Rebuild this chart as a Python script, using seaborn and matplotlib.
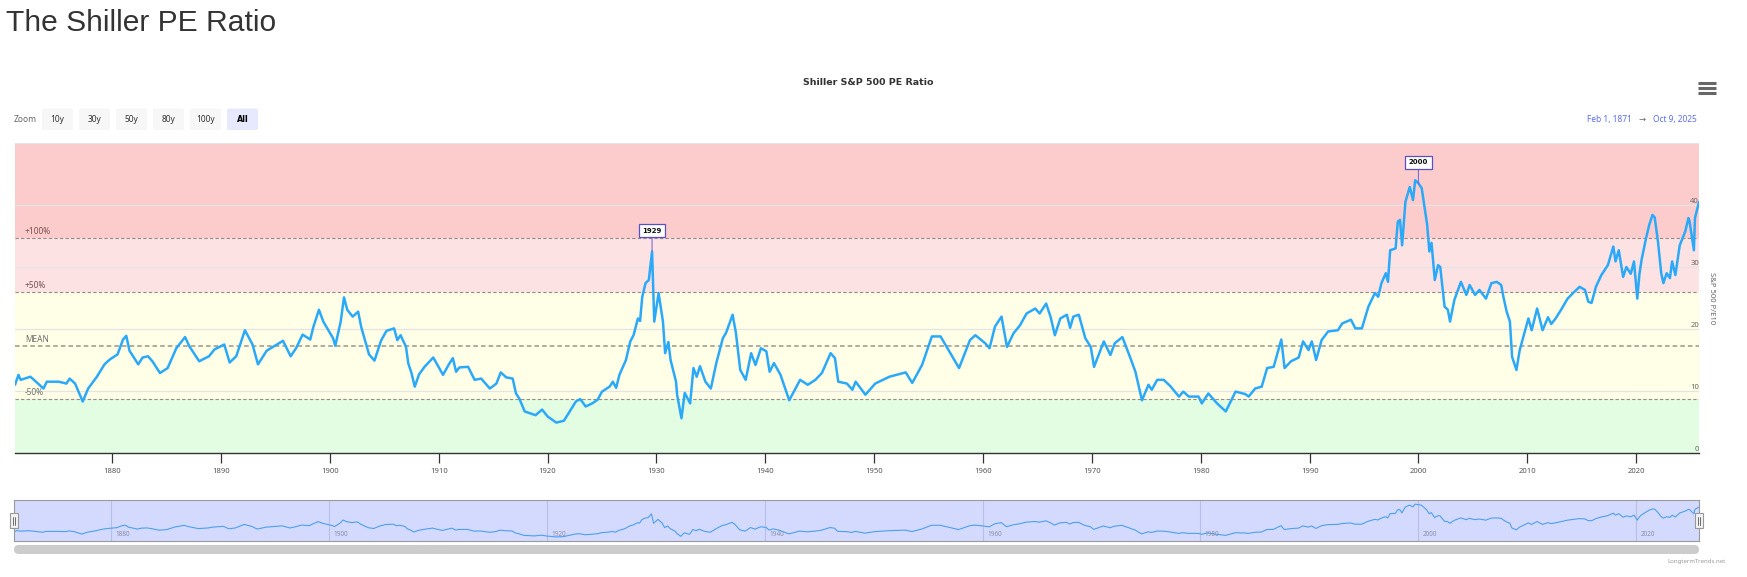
import numpy as np
import pandas as pd
import seaborn as sns
import matplotlib.pyplot as plt
import matplotlib.transforms as mtransforms
from matplotlib.patches import Rectangle, FancyBboxPatch

# Shiller PE (CAPE), decimal years
years = [
    1871.08, 1871.4, 1871.6, 1872.5, 1873.7, 1874.0, 1875.1, 1875.8, 1876.1, 1876.6,
    1877.3, 1877.8, 1878.6, 1879.3, 1879.8, 1880.5, 1881.0, 1881.3, 1881.6, 1882.4,
    1882.8, 1883.3, 1883.7, 1884.4, 1885.1, 1885.9, 1886.7, 1887.1, 1888.0, 1888.9,
    1889.4, 1890.3, 1890.8, 1891.4, 1892.2, 1892.9, 1893.4, 1894.2, 1895.7, 1896.4,
    1896.9, 1897.5, 1898.2, 1898.5, 1899.0, 1899.4, 1900.3, 1900.5, 1901.0, 1901.3,
    1901.6, 1902.1, 1902.6, 1902.9, 1903.6, 1904.1, 1904.7, 1905.2, 1905.9, 1906.2,
    1906.5, 1907.0, 1907.2, 1907.5, 1907.8, 1908.2, 1908.7, 1909.5, 1910.4, 1910.9,
    1911.3, 1911.6, 1911.9, 1912.7, 1913.3, 1913.9, 1914.7, 1915.3, 1915.7, 1916.2,
    1916.8, 1917.1, 1917.4, 1917.9, 1918.9, 1919.5, 1920.0, 1920.8, 1921.5, 1922.1,
    1922.6, 1923.0, 1923.5, 1924.1, 1924.6, 1925.0, 1925.7, 1926.0, 1926.3, 1926.6,
    1927.2, 1927.6, 1927.9, 1928.3, 1928.5, 1928.7, 1929.0, 1929.3, 1929.6, 1929.8,
    1930.2, 1930.6, 1930.8, 1931.1, 1931.3, 1931.8, 1931.9, 1932.3, 1932.6, 1933.1,
    1933.4, 1933.7, 1934.0, 1934.5, 1935.0, 1935.5, 1936.1, 1936.4, 1937.0, 1937.3,
    1937.7, 1938.2, 1938.7, 1939.1, 1939.6, 1940.1, 1940.4, 1940.8, 1941.4, 1942.2,
    1943.2, 1943.9, 1944.6, 1945.2, 1946.0, 1946.4, 1946.7, 1947.5, 1948.0, 1948.3,
    1949.2, 1950.1, 1951.4, 1952.9, 1953.5, 1954.4, 1955.3, 1956.1, 1957.0, 1957.8,
    1958.8, 1959.3, 1960.2, 1960.6, 1961.1, 1961.7, 1962.2, 1962.8, 1963.4, 1964.0,
    1964.8, 1965.2, 1965.8, 1966.2, 1966.6, 1967.1, 1967.7, 1968.0, 1968.3, 1968.8,
    1969.4, 1969.9, 1970.2, 1971.1, 1971.7, 1972.1, 1972.8, 1973.5, 1974.0, 1974.6,
    1975.2, 1975.5, 1976.0, 1976.6, 1977.2, 1978.0, 1978.4, 1978.9, 1979.8, 1980.1,
    1980.7, 1981.5, 1982.3, 1983.2, 1984.1, 1984.4, 1985.0, 1985.6, 1986.1, 1986.7,
    1987.4, 1987.7, 1988.3, 1989.0, 1989.4, 1989.9, 1990.2, 1990.6, 1991.1, 1991.7,
    1992.6, 1993.0, 1993.8, 1994.2, 1994.8, 1995.4, 1996.0, 1996.3, 1996.6, 1997.0,
    1997.2, 1997.4, 1997.9, 1998.1, 1998.3, 1998.5, 1998.8, 1999.2, 1999.5, 1999.7,
    2000.0, 2000.3, 2000.6, 2000.8, 2001.0, 2001.2, 2001.5, 2001.8, 2002.0, 2002.4,
    2002.7, 2002.9, 2003.3, 2003.9, 2004.4, 2004.7, 2005.2, 2005.6, 2006.2, 2006.7,
    2007.2, 2007.6, 2007.8, 2008.1, 2008.4, 2008.6, 2009.0, 2009.3, 2009.8, 2010.1,
    2010.4, 2010.9, 2011.4, 2011.9, 2012.2, 2012.6, 2013.1, 2013.7, 2014.2, 2014.8,
    2015.3, 2015.6, 2015.9, 2016.3, 2016.8, 2017.4, 2017.9, 2018.1, 2018.4, 2018.8,
    2019.1, 2019.5, 2019.8, 2020.1, 2020.3, 2020.5, 2020.9, 2021.2, 2021.5, 2021.7,
    2022.0, 2022.3, 2022.5, 2022.8, 2023.1, 2023.3, 2023.6, 2024.0, 2024.5, 2024.8,
    2024.9, 2025.3, 2025.4, 2025.77,
]
pe = [
    11.0, 12.6, 11.8, 12.3, 10.4, 11.5, 11.5, 11.2, 12.0, 11.2,
    8.3, 10.4, 12.3, 14.3, 15.1, 15.9, 18.3, 18.9, 16.5, 14.3,
    15.4, 15.6, 14.8, 12.9, 13.7, 16.9, 18.7, 17.2, 14.8, 15.6,
    16.7, 17.5, 14.6, 15.6, 19.8, 17.5, 14.3, 16.5, 18.1, 15.6,
    16.9, 19.1, 18.3, 20.4, 23.1, 21.2, 18.5, 17.3, 21.2, 25.1,
    23.1, 22.0, 22.8, 20.2, 15.9, 14.9, 18.1, 19.7, 20.1, 18.2,
    19.0, 17.1, 14.5, 12.9, 10.7, 12.7, 13.9, 15.4, 12.6, 14.2,
    15.3, 13.1, 13.8, 13.9, 11.8, 12.0, 10.4, 11.2, 13.0, 12.2,
    12.0, 9.6, 8.8, 6.7, 6.1, 7.0, 5.9, 4.9, 5.2, 6.9,
    8.3, 8.7, 7.5, 8.0, 8.6, 9.9, 10.7, 11.5, 10.5, 12.6,
    15.0, 18.0, 19.0, 21.7, 21.3, 25.2, 27.4, 27.9, 32.5, 21.2,
    25.8, 21.2, 16.1, 17.9, 15.0, 11.5, 9.4, 5.6, 9.7, 8.0,
    13.7, 12.3, 14.0, 11.5, 10.4, 14.5, 18.5, 19.4, 22.3, 19.4,
    13.4, 11.8, 16.1, 14.2, 16.9, 16.4, 13.1, 14.5, 12.6, 8.5,
    11.8, 11.0, 11.8, 12.9, 16.1, 15.3, 11.5, 11.2, 10.2, 11.5,
    9.4, 11.2, 12.3, 13.0, 11.3, 14.2, 18.8, 18.8, 16.1, 13.7,
    18.2, 19.0, 17.7, 16.9, 20.4, 22.0, 17.1, 19.3, 20.6, 22.5,
    23.3, 22.5, 24.1, 22.0, 19.0, 21.7, 22.3, 20.2, 22.0, 22.3,
    18.5, 17.1, 13.9, 18.0, 15.8, 17.7, 18.7, 15.5, 13.1, 8.5,
    11.0, 10.2, 11.8, 11.8, 10.8, 9.1, 9.9, 9.1, 9.1, 8.0,
    9.6, 8.0, 6.7, 9.9, 9.5, 9.1, 10.4, 10.7, 13.7, 13.9,
    18.3, 13.7, 14.8, 15.4, 18.0, 16.6, 18.0, 15.0, 18.2, 19.6,
    19.8, 20.9, 21.5, 20.1, 20.1, 23.6, 25.8, 25.2, 27.4, 29.0,
    27.6, 32.7, 33.0, 37.3, 37.6, 33.5, 40.5, 42.9, 40.8, 44.0,
    43.5, 42.7, 39.2, 36.8, 32.5, 33.9, 27.9, 30.3, 30.0, 23.6,
    23.1, 21.2, 24.7, 27.6, 25.5, 27.1, 25.5, 26.3, 24.9, 27.4,
    27.6, 27.1, 25.2, 22.8, 21.2, 15.5, 13.4, 16.6, 19.8, 21.7,
    19.8, 23.3, 19.8, 21.9, 20.8, 21.7, 23.1, 24.9, 25.8, 26.8,
    26.3, 24.4, 24.2, 26.8, 28.7, 30.3, 33.3, 30.9, 32.7, 28.4,
    30.0, 28.9, 30.9, 24.9, 28.9, 31.2, 34.6, 36.8, 38.4, 38.0,
    34.1, 29.0, 27.4, 29.0, 28.2, 30.9, 28.7, 33.5, 35.7, 37.9,
    37.4, 32.7, 37.9, 40.5,
]

pe_mean = 17.3
level_names = ['+100%', '+50%', 'MEAN', '-50%']
level_factors = [2.0, 1.5, 1.0, 0.5]
band_colors = ['#fccccc', '#fde2e4', '#fffee6', '#e3fde3']   # top to bottom
peak_years = [1929.6, 2000.0]
peak_labels = ['1929', '2000']
x_ticks = list(range(1880, 2030, 10))
nav_ticks = list(range(1880, 2030, 20))
y_ticks = [0, 10, 20, 30, 40, 50]
y_ticklabels = ['0', '10', '20', '30', '40', '']
zoom_buttons = ['10y', '30y', '50y', '80y', '100y', 'All']
date_from, date_to = 'Feb 1, 1871', 'Oct 9, 2025'

df = pd.DataFrame({'year': years, 'pe': pe})

sns.set_style('white')
plt.rcParams['font.family'] = ['Noto Sans', 'DejaVu Sans']
BOLD = ['DejaVu Sans']

W, H = 1747, 577
fig = plt.figure(figsize=(W / 100, H / 100), dpi=100)
line_color = '#2ba9f9'

# ---- main chart
ax = fig.add_axes([15 / W, 1 - 453 / H, 1684 / W, 310 / H])
levels = [pe_mean * f for f in level_factors]
edges = [50] + levels[:2] + [levels[3], 0]
for hi, lo, c in zip(edges[:-1], edges[1:], band_colors):
    ax.axhspan(lo, hi, color=c, lw=0, zorder=0)
for name, lv in zip(level_names, levels):
    is_mean = name == 'MEAN'
    ax.axhline(lv, color='#9a958a' if is_mean else '#948a86', lw=1.1 if is_mean else 0.8,
               ls=(0, (3, 2)), zorder=2)
    ax.text(1872.0, lv + 0.35, name, fontsize=6, va='bottom', ha='left', zorder=2,
            color='#7a5050' if '+' in name else '#6e6e6e')

sns.lineplot(data=df, x='year', y='pe', ax=ax, color=line_color, lw=1.8,
             errorbar=None, zorder=3)

for py, lab in zip(peak_years, peak_labels):
    i = int(np.argmin(np.abs(np.array(years) - py)))
    ax.annotate(lab, xy=(years[i], pe[i]), xytext=(0, 15), textcoords='offset points',
                ha='center', va='center', fontsize=5, fontweight='bold', color='#111',
                family=BOLD,
                bbox=dict(boxstyle='square,pad=0.5', fc='white', ec='#5a4fc6', lw=0.9),
                arrowprops=dict(arrowstyle='-', color='#7a6ed8', lw=0.8,
                                shrinkA=0, shrinkB=0), zorder=5)

ax.set_xlim(1871.08, 2025.77)
ax.set_ylim(0, 50)
ax.set_xticks(x_ticks)
ax.set_yticks(y_ticks)
ax.set_yticklabels(y_ticklabels)
ax.set_axisbelow(True)
ax.yaxis.grid(True, color='#e4e4e4', lw=0.9)
ax.xaxis.grid(False)
ax.yaxis.tick_right()
ax.tick_params(axis='y', length=0, pad=0, labelsize=5.5, labelcolor='#666666')
plt.setp(ax.get_yticklabels(), ha='right', va='bottom')
ax.tick_params(axis='x', direction='out', bottom=True, length=7, width=0.9, color='#333333',
               pad=4, labelsize=5.5, labelcolor='#555555')
for s in ['left', 'right', 'top']:
    ax.spines[s].set_visible(False)
ax.spines['bottom'].set_color('#333333')
ax.spines['bottom'].set_linewidth(1)
ax.set_xlabel('')
ax.set_ylabel('S&P 500 P/E10', rotation=270, fontsize=5.5, color='#666666', va='center')
ax.yaxis.set_label_coords(1.0077, 0.5)

# ---- navigator
nav = fig.add_axes([14 / W, 1 - 541 / H, 1685 / W, 41 / H])
nav.set_facecolor('#d3dafd')
sns.lineplot(data=df, x='year', y='pe', ax=nav, color='#4d9ff2', lw=0.8, errorbar=None)
nav.set_xlim(1871.08, 2025.77)
nav.set_ylim(0, 49)
nav.set_xticks(nav_ticks)
nav.set_xticklabels([])
nav.set_yticks([])
nav.tick_params(length=0)
nav.set_axisbelow(True)
nav.xaxis.grid(True, color='#b7bfe9', lw=0.8)
nav.set(xlabel='', ylabel='')
for s in nav.spines.values():
    s.set_color('#9a9a9a')
    s.set_linewidth(0.8)
trans = mtransforms.blended_transform_factory(nav.transData, nav.transAxes)
for t in nav_ticks:
    nav.text(t + 0.4, 0.17, str(t), transform=trans, fontsize=4.6, color='#8a8ea8', va='center')

# ---- page decorations in pixel coordinates
ov = fig.add_axes([0, 0, 1, 1], zorder=10)
ov.set_xlim(0, W)
ov.set_ylim(H, 0)
ov.axis('off')
ov.patch.set_alpha(0)

ov.text(6, 23, 'The Shiller PE Ratio', fontsize=21.6, va='center', ha='left',
        color='#333333', family=['Liberation Sans', 'DejaVu Sans'])
ov.text(868, 82.5, 'Shiller S&P 500 PE Ratio', fontsize=6.8, fontweight='bold',
        ha='center', va='center', color='#333333', family=BOLD)

ov.text(25.5, 119.5, 'Zoom', fontsize=6, ha='center', va='center', color='#666666')
for k, lab in enumerate(zoom_buttons):
    x0 = 42 + k * 37
    sel = lab == 'All'
    ov.add_patch(FancyBboxPatch((x0, 108.5), 31, 21.5,
                                boxstyle='round,pad=0,rounding_size=2',
                                fc='#e6e9ff' if sel else '#f7f7f7', ec='none'))
    ov.text(x0 + 15.5, 119.5, lab, fontsize=5.8 if sel else 6, ha='center', va='center',
            color='#000000' if sel else '#333333', fontweight='bold' if sel else 'normal',
            family=BOLD if sel else None)

ov.text(1609, 119.5, date_from, fontsize=6, ha='center', va='center', color='#5b6cf2')
ov.text(1642, 119.5, '\u2192', fontsize=6, ha='center', va='center', color='#666666')
ov.text(1675, 119.5, date_to, fontsize=6, ha='center', va='center', color='#5b6cf2')

for yy in [83.3, 88.3, 93.3]:
    ov.plot([1698, 1716], [yy, yy], color='#666666', lw=2.2, solid_capstyle='butt')

# navigator handles
for cx in [14, 1699]:
    ov.add_patch(Rectangle((cx - 4, 513), 8, 15, fc='#f2f2f2', ec='#999999', lw=0.8))
    for dx in [-1.3, 1.3]:
        ov.plot([cx + dx, cx + dx], [516.5, 524.5], color='#555555', lw=0.6)

# scrollbar
ov.add_patch(FancyBboxPatch((14, 545), 1685, 9, boxstyle='round,pad=0,rounding_size=4.5',
                            fc='#cccccc', ec='none'))
ov.text(1697, 561.5, 'LongtermTrends.net', fontsize=4.3, ha='center', va='center',
        color='#999999')

fig.savefig('out.png', dpi=100)
